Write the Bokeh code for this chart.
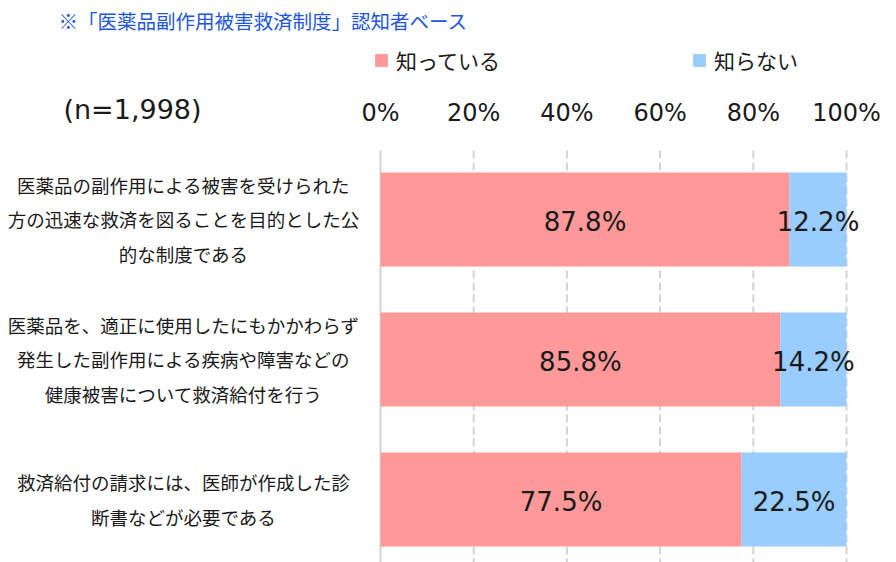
from bokeh.plotting import figure
from bokeh.models import Range1d, Label, Legend, LegendItem, ColumnDataSource
from bokeh.embed import file_html
from bokeh.resources import INLINE
from bokeh.core.properties import value

# ---- data ----
categories = [
    "医薬品の副作用による被害を受けられた\n方の迅速な救済を図ることを目的とした公\n的な制度である",
    "医薬品を、適正に使用したにもかかわらず\n発生した副作用による疾病や障害などの\n健康被害について救済給付を行う",
    "救済給付の請求には、医師が作成した診\n断書などが必要である",
]
known = [87.8, 85.8, 77.5]
unknown = [12.2, 14.2, 22.5]
series_names = ["知っている", "知らない"]
tick_values = [0, 20, 40, 60, 80, 100]
tick_labels = ["0%", "20%", "40%", "60%", "80%", "100%"]
title_text = "※「医薬品副作用被害救済制度」認知者ベース"
sample_text = "(n=1,998)"

# ---- styles / layout ----
PINK = "#FF9999"
BLUE = "#99CCFF"
TEXT = "#1a1a1a"
GRID = "#d4d4d4"
JP = "Noto Sans CJK JP"
LAT = "DejaVu Sans"
W, H = 896, 562
X0, PX = 380, 4.66            # pixel of 0% and pixels per percent
ROW0, ROW = 219, 140          # pixel of first row centre and row pitch


def xd(px):
    return (px - X0) / PX


def yd(py):
    return (py - ROW0) / ROW


ys = list(range(len(categories)))
src = ColumnDataSource(dict(
    y=ys,
    known=known,
    total=[a + b for a, b in zip(known, unknown)],
    kmid=[a / 2 for a in known],
    umid=[a + b / 2 for a, b in zip(known, unknown)],
    klab=[f"{a:.1f}%" for a in known],
    ulab=[f"{b:.1f}%" for b in unknown],
))

p = figure(width=W, height=H,
           x_range=Range1d(xd(0), xd(W)),
           y_range=Range1d(yd(H), yd(0)),
           x_axis_type=None, y_axis_type=None,
           output_backend="svg", toolbar_location=None,
           min_border=0, min_border_left=0, min_border_right=0,
           min_border_top=0, min_border_bottom=0)
p.outline_line_color = None
p.background_fill_color = "white"
p.border_fill_color = "white"
p.grid.visible = False

# grid lines and the zero line
grid_top, grid_bottom = yd(150), yd(H)
gx = tick_values[1:]
p.segment(x0=gx, x1=gx, y0=[grid_top] * len(gx), y1=[grid_bottom] * len(gx),
          line_color=GRID, line_width=2, line_dash="8 4")
p.segment(x0=[0], x1=[0], y0=[grid_top], y1=[grid_bottom],
          line_color=GRID, line_width=2)

# percent tick labels along the top
p.text(x=tick_values, y=[yd(112)] * len(tick_values), text=tick_labels,
       text_align="center", text_baseline="middle", text_font=value(LAT),
       text_font_size="24px", text_color=TEXT)

bh = 0.671
r1 = p.hbar(y="y", left=0, right="known", height=bh, source=src,
            fill_color=PINK, line_color=None)
r2 = p.hbar(y="y", left="known", right="total", height=bh, source=src,
            fill_color=BLUE, line_color=None)

p.text(x="kmid", y="y", text="klab", source=src, text_align="center",
       text_baseline="middle", text_font=value(LAT), text_font_size="26px",
       text_color=TEXT, y_offset=2)
p.text(x="umid", y="y", text="ulab", source=src, text_align="center",
       text_baseline="middle", text_font=value(LAT), text_font_size="26px",
       text_color=TEXT, y_offset=2)

for yv, cat in zip(ys, categories):
    p.add_layout(Label(x=xd(183), y=yv, text=cat, text_align="center",
                       text_baseline="middle", text_font=JP,
                       text_font_size="18.5px", text_color=TEXT,
                       text_line_height=1.31))

p.add_layout(Label(x=xd(58), y=yd(20), text=title_text, text_align="left",
                   text_baseline="middle", text_font=JP,
                   text_font_size="19.5px", text_color="#2255DD"))
p.add_layout(Label(x=xd(132), y=yd(109), text=sample_text, text_align="center",
                   text_baseline="middle", text_font=LAT,
                   text_font_size="27px", text_color=TEXT))

legend = Legend(items=[LegendItem(label=series_names[0], renderers=[r1]),
                       LegendItem(label=series_names[1], renderers=[r2])],
                orientation="horizontal", location=(373, 487),
                glyph_width=16, glyph_height=16, label_standoff=7,
                spacing=191, padding=0, margin=0,
                border_line_color=None, background_fill_alpha=0,
                label_text_font=JP, label_text_font_size="21px",
                label_text_color=TEXT)
p.add_layout(legend)

open("out.html", "w").write(file_html(p, INLINE))
